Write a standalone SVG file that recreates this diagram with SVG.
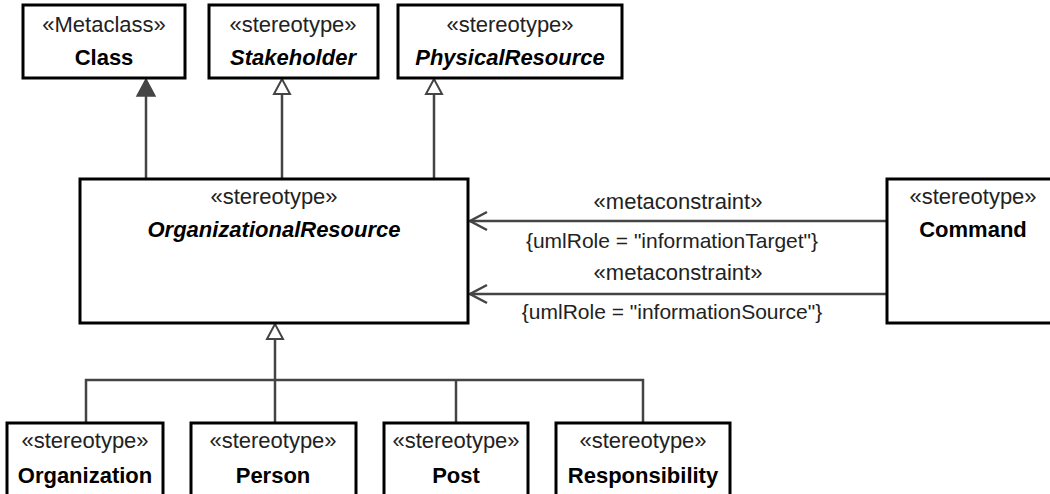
<svg xmlns="http://www.w3.org/2000/svg" width="1050" height="494" viewBox="0 0 1050 494">
<style>
.box{fill:#fff;stroke:#000;stroke-width:3}
.t{font-family:"Liberation Sans",Arial,sans-serif;font-size:22px;text-anchor:middle;fill:#222}
.s{font-size:21px}
.b{font-weight:bold;fill:#000}
.i{font-style:italic}
.c{fill:none;stroke:#444;stroke-width:2.5}
.hol{fill:#fff;stroke:#444;stroke-width:2}
.fil{fill:#444;stroke:#444;stroke-width:1.5}
</style>
<rect width="1050" height="494" fill="#fff"/>
<g id="connectors">
<line class="c" x1="146" y1="179" x2="146" y2="95"/>
<polygon class="fil" points="146,79 137,96 155,96"/>
<line class="c" x1="282" y1="179" x2="282" y2="94"/>
<polygon class="hol" points="282,79 274,94 290,94"/>
<line class="c" x1="434" y1="179" x2="434" y2="94"/>
<polygon class="hol" points="434,79 426,94 442,94"/>
<line class="c" x1="275" y1="339" x2="275" y2="423"/>
<polygon class="hol" points="275,324 267,339 283,339"/>
<polyline class="c" points="86,423 86,380 643,380 643,423"/>
<line class="c" x1="456" y1="380" x2="456" y2="423"/>
<line class="c" x1="887" y1="221" x2="470" y2="221"/>
<polyline class="c" points="487,212 470,221 487,230"/>
<line class="c" x1="887" y1="294" x2="470" y2="294"/>
<polyline class="c" points="487,285 470,294 487,303"/>
<text class="t" x="678" y="209">«metaconstraint»</text>
<text class="t s" x="672" y="248">{umlRole = "informationTarget"}</text>
<text class="t" x="678" y="280">«metaconstraint»</text>
<text class="t s" x="672" y="319">{umlRole = "informationSource"}</text>
</g>
<g id="Class">
<rect class="box" x="23" y="5" width="162" height="73"/>
<text class="t" x="104" y="32">«Metaclass»</text>
<text class="t b" x="104" y="65">Class</text>
</g>
<g id="Stakeholder">
<rect class="box" x="209" y="5" width="169" height="73"/>
<text class="t" x="293" y="32">«stereotype»</text>
<text class="t b i" x="293" y="65">Stakeholder</text>
</g>
<g id="PhysicalResource">
<rect class="box" x="398" y="5" width="224" height="73"/>
<text class="t" x="510" y="32">«stereotype»</text>
<text class="t b i" x="510" y="65">PhysicalResource</text>
</g>
<g id="OrganizationalResource">
<rect class="box" x="80" y="179" width="388" height="144"/>
<text class="t" x="274" y="204">«stereotype»</text>
<text class="t b i" x="274" y="237">OrganizationalResource</text>
</g>
<g id="Command">
<rect class="box" x="887" y="179" width="175" height="144"/>
<text class="t" x="973" y="204">«stereotype»</text>
<text class="t b" x="973" y="237">Command</text>
</g>
<g id="Organization">
<rect class="box" x="7" y="423" width="156" height="80"/>
<text class="t" x="85" y="448">«stereotype»</text>
<text class="t b" x="85" y="483">Organization</text>
</g>
<g id="Person">
<rect class="box" x="191" y="423" width="165" height="80"/>
<text class="t" x="273" y="448">«stereotype»</text>
<text class="t b" x="273" y="483">Person</text>
</g>
<g id="Post">
<rect class="box" x="384" y="423" width="144" height="80"/>
<text class="t" x="456" y="448">«stereotype»</text>
<text class="t b" x="456" y="483">Post</text>
</g>
<g id="Responsibility">
<rect class="box" x="556" y="423" width="174" height="80"/>
<text class="t" x="643" y="448">«stereotype»</text>
<text class="t b" x="643" y="483">Responsibility</text>
</g>
</svg>
